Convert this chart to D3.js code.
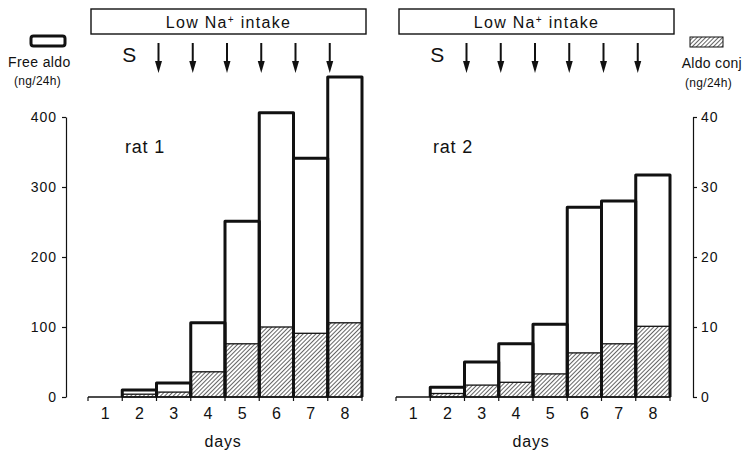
<!DOCTYPE html>
<html lang="en">
<head>
  <meta charset="utf-8">
  <title>Free and conjugated aldosterone, low Na+ intake</title>
  <script src="https://d3js.org/d3.v7.min.js"></script>
  <style>
    body { margin: 0; background: #fff; }
    svg text { font-family: "Liberation Sans", Arial, sans-serif; fill: #111; }
  </style>
</head>
<body>
  <div id="chart"></div>
  <script>
    // data
    var days = [1, 2, 3, 4, 5, 6, 7, 8];
    var arrowDays = [3, 4, 5, 6, 7, 8];
    var rat1Free = [0, 10, 20, 106, 251, 406, 341, 457];
    var rat1Conj = [0, 0.4, 0.7, 3.6, 7.6, 10, 9.1, 10.6];
    var rat2Free = [0, 14, 50, 76, 104, 271, 280, 317];
    var rat2Conj = [0, 0.5, 1.7, 2.1, 3.3, 6.3, 7.6, 10.1];
    var freeTicks = [0, 100, 200, 300, 400];
    var conjTicks = [0, 10, 20, 30, 40];

    var w = 744, h = 453;
    var y0 = 397, yTop = 117;

    var svg = d3.select("#chart").append("svg")
      .attr("width", w)
      .attr("height", h);

    // hatch pattern for the conjugate part
    var defs = svg.append("defs");
    defs.append("pattern")
      .attr("id", "hatch")
      .attr("patternUnits", "userSpaceOnUse")
      .attr("width", 3)
      .attr("height", 3)
      .attr("patternTransform", "rotate(45)")
      .append("line")
      .attr("x1", 0).attr("y1", 0)
      .attr("x2", 0).attr("y2", 3)
      .attr("stroke", "#111")
      .attr("stroke-width", 1.3);

    var yFree = d3.scaleLinear().domain([0, 400]).range([y0, yTop]);
    var yConj = d3.scaleLinear().domain([0, 40]).range([y0, yTop]);

    var panels = [
      { name: "rat 1", free: rat1Free, conj: rat1Conj, x0: 88, x1: 362 },
      { name: "rat 2", free: rat2Free, conj: rat2Conj, x0: 396, x1: 670 }
    ];

    panels.forEach(function (p) {
      var x = d3.scaleBand().domain(days).range([p.x0, p.x1]).padding(0);
      var g = svg.append("g");

      // banner
      g.append("rect")
        .attr("x", p.x0 + 3)
        .attr("y", 9)
        .attr("width", p.x1 - p.x0 + 1)
        .attr("height", 25)
        .attr("fill", "none")
        .attr("stroke", "#111")
        .attr("stroke-width", 1.4);
      g.append("text")
        .attr("x", p.x0 + 3 + (p.x1 - p.x0 + 1) / 2)
        .attr("y", 28)
        .attr("text-anchor", "middle")
        .attr("font-size", 16)
        .attr("letter-spacing", 1.3)
        .html('Low Na<tspan font-size="10" dy="-5">+</tspan><tspan dy="5"> intake</tspan>');

      // S and arrows
      g.append("text")
        .attr("x", x(2) + 7)
        .attr("y", 62)
        .attr("text-anchor", "middle")
        .attr("font-size", 21)
        .text("S");

      arrowDays.forEach(function (d) {
        var ax = x(d) + 2;
        g.append("line")
          .attr("x1", ax).attr("x2", ax)
          .attr("y1", 43).attr("y2", 63)
          .attr("stroke", "#111")
          .attr("stroke-width", 2);
        g.append("path")
          .attr("d", "M" + (ax - 3.5) + ",61L" + (ax + 3.5) + ",61L" + ax + ",73Z")
          .attr("fill", "#111");
      });

      // hatched conjugate bars
      g.selectAll(".conj")
        .data(days)
        .enter()
        .append("rect")
        .attr("class", "conj")
        .attr("x", function (d) { return x(d); })
        .attr("width", x.bandwidth())
        .attr("y", function (d, i) { return yConj(p.conj[i]); })
        .attr("height", function (d, i) { return y0 - yConj(p.conj[i]); })
        .attr("fill", "url(#hatch)")
        .attr("stroke", "#111")
        .attr("stroke-width", function (d, i) { return p.conj[i] > 0 ? 1.3 : 0; });

      // baseline with boundary ticks
      g.append("line")
        .attr("x1", p.x0).attr("x2", p.x1)
        .attr("y1", y0).attr("y2", y0)
        .attr("stroke", "#111")
        .attr("stroke-width", 1.4);
      g.selectAll(".btick")
        .data(days.concat([9]))
        .enter()
        .append("line")
        .attr("class", "btick")
        .attr("x1", function (d) { return d === 9 ? p.x1 : x(d); })
        .attr("x2", function (d) { return d === 9 ? p.x1 : x(d); })
        .attr("y1", y0).attr("y2", y0 + 4)
        .attr("stroke", "#111")
        .attr("stroke-width", 1.2);

      // free aldo outlines
      g.selectAll(".free")
        .data(days.filter(function (d, i) { return p.free[i] > 0; }))
        .enter()
        .append("path")
        .attr("class", "free")
        .attr("d", function (d) {
          var i = days.indexOf(d);
          var xl = x(d), xr = x(d) + x.bandwidth(), yt = yFree(p.free[i]);
          return "M" + xl + "," + y0 + "L" + xl + "," + yt + "L" + xr + "," + yt + "L" + xr + "," + y0;
        })
        .attr("fill", "none")
        .attr("stroke", "#111")
        .attr("stroke-width", 3)
        .attr("stroke-linejoin", "round");

      // day labels
      g.selectAll(".dlab")
        .data(days)
        .enter()
        .append("text")
        .attr("class", "dlab")
        .attr("x", function (d) { return x(d) + x.bandwidth() / 2; })
        .attr("y", 419)
        .attr("text-anchor", "middle")
        .attr("font-size", 16)
        .text(function (d) { return d; });

      g.append("text")
        .attr("x", (p.x0 + p.x1) / 2 - 2)
        .attr("y", 447)
        .attr("text-anchor", "middle")
        .attr("font-size", 16)
        .attr("letter-spacing", 0.8)
        .text("days");

      g.append("text")
        .attr("x", p.x0 + 37)
        .attr("y", 153)
        .attr("font-size", 18)
        .attr("letter-spacing", 0.8)
        .text(p.name);
    });

    // left axis (free aldo)
    var leftAxis = svg.append("g")
      .attr("transform", "translate(66,0)")
      .call(d3.axisLeft(yFree).tickValues(freeTicks).tickSize(4).tickSizeOuter(0).tickPadding(5));
    leftAxis.selectAll("text").attr("font-size", 14).attr("letter-spacing", 1).style("font-family", null);
    leftAxis.selectAll("path, line").attr("stroke", "#111").attr("stroke-width", 1.2);

    // right axis (aldo conj)
    var rightAxis = svg.append("g")
      .attr("transform", "translate(693,0)")
      .call(d3.axisRight(yConj).tickValues(conjTicks).tickSize(4).tickSizeOuter(0).tickPadding(4));
    rightAxis.selectAll("text").attr("font-size", 14).attr("letter-spacing", 1).style("font-family", null);
    rightAxis.selectAll("path, line").attr("stroke", "#111").attr("stroke-width", 1.2);
    svg.selectAll(".domain").attr("fill", "none");

    // legends
    svg.append("rect")
      .attr("x", 31).attr("y", 36)
      .attr("width", 34).attr("height", 10)
      .attr("rx", 2.5)
      .attr("fill", "none")
      .attr("stroke", "#111")
      .attr("stroke-width", 3);
    svg.append("text")
      .attr("x", 8).attr("y", 67)
      .attr("font-size", 14)
      .attr("letter-spacing", 0.4)
      .text("Free aldo");
    svg.append("text")
      .attr("x", 14).attr("y", 85)
      .attr("font-size", 12)
      .attr("letter-spacing", 0.3)
      .text("(ng/24h)");

    svg.append("rect")
      .attr("x", 690).attr("y", 37)
      .attr("width", 33).attr("height", 10)
      .attr("fill", "url(#hatch)")
      .attr("stroke", "#111")
      .attr("stroke-width", 1);
    svg.append("text")
      .attr("x", 742).attr("y", 68)
      .attr("text-anchor", "end")
      .attr("font-size", 14)
      .attr("letter-spacing", 0.3)
      .text("Aldo conj");
    svg.append("text")
      .attr("x", 685).attr("y", 87)
      .attr("font-size", 12)
      .attr("letter-spacing", 0.3)
      .text("(ng/24h)");
  </script>
</body>
</html>
